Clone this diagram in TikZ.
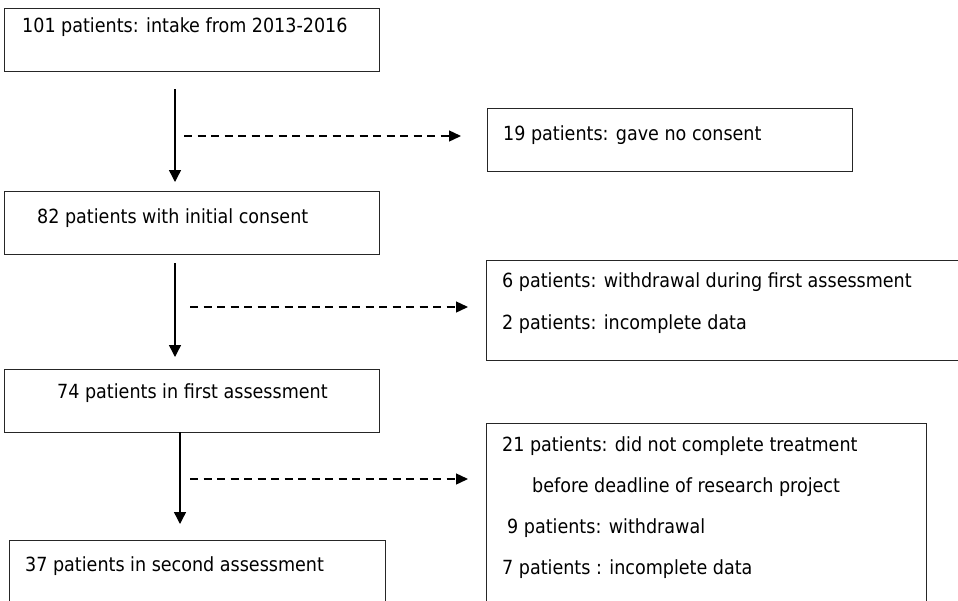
\documentclass[tikz,border=0pt]{standalone}
\usepackage{fontspec}
\setmainfont{DejaVu Sans Condensed}
\usetikzlibrary{arrows.meta}
\tikzset{
  box/.style={draw=black!85, line width=1pt, anchor=north west, inner sep=0pt, fill=none},
  txt/.style={anchor=base west, inner sep=0pt, font=\fontsize{19.5}{23}\selectfont},
  flow/.style={line width=1.4pt, -{Triangle[width=12pt,length=12pt]}},
  excl/.style={line width=1.4pt, dash pattern=on 8pt off 5.5pt, -{Triangle[width=11pt,length=12pt]}}
}
\begin{document}
\begin{tikzpicture}[x=1pt,y=-1pt]
\useasboundingbox (0,0) rectangle (958,600);
\clip (0,0) rectangle (958,600);
% main boxes
\node[box, minimum width=375pt, minimum height=63pt] (b1) at (4,8) {};
\node[box, minimum width=375pt, minimum height=63pt] (b2) at (4,191) {};
\node[box, minimum width=375pt, minimum height=63pt] (b3) at (4,369) {};
\node[box, minimum width=376pt, minimum height=80pt] (b4) at (9,540) {};
% side boxes
\node[box, minimum width=365pt, minimum height=63pt] (s1) at (487,108) {};
\node[box, minimum width=480pt, minimum height=100pt] (s2) at (486,260) {};
\node[box, minimum width=440pt, minimum height=200pt] (s3) at (486,423) {};
% texts
\node[txt] (t1) at (22,32) {101 patients: intake from 2013-2016};
\node[txt] (t2) at (37,223) {82 patients with initial consent};
\node[txt] (t3) at (57,398) {74 patients in first assessment};
\node[txt] (t4) at (25,571) {37 patients in second assessment};
\node[txt] (u1) at (503,140) {19 patients: gave no consent};
\node[txt] (u2) at (502,287) {6 patients: withdrawal during first assessment};
\node[txt] (u3) at (502,329) {2 patients: incomplete data};
\node[txt] (v1) at (502,451) {21 patients: did not complete treatment};
\node[txt] (v2) at (532,492) {before deadline of research project};
\node[txt] (v3) at (507,533) {9 patients: withdrawal};
\node[txt] (v4) at (502,574) {7 patients : incomplete data};
% arrow endpoints
\coordinate (a1s) at (175,89);
\coordinate (a1e) at (175,182);
\coordinate (d1s) at (184,136);
\coordinate (d1e) at (461,136);
\coordinate (a2s) at (175,263);
\coordinate (a2e) at (175,357);
\coordinate (d2s) at (190,307);
\coordinate (d2e) at (468,307);
\coordinate (a3s) at (180,432);
\coordinate (a3e) at (180,524);
\coordinate (d3s) at (190,479);
\coordinate (d3e) at (468,479);
\draw[flow] (a1s) -- (a1e);
\draw[excl] (d1s) -- (d1e);
\draw[flow] (a2s) -- (a2e);
\draw[excl] (d2s) -- (d2e);
\draw[flow] (a3s) -- (a3e);
\draw[excl] (d3s) -- (d3e);
\end{tikzpicture}
\end{document}
